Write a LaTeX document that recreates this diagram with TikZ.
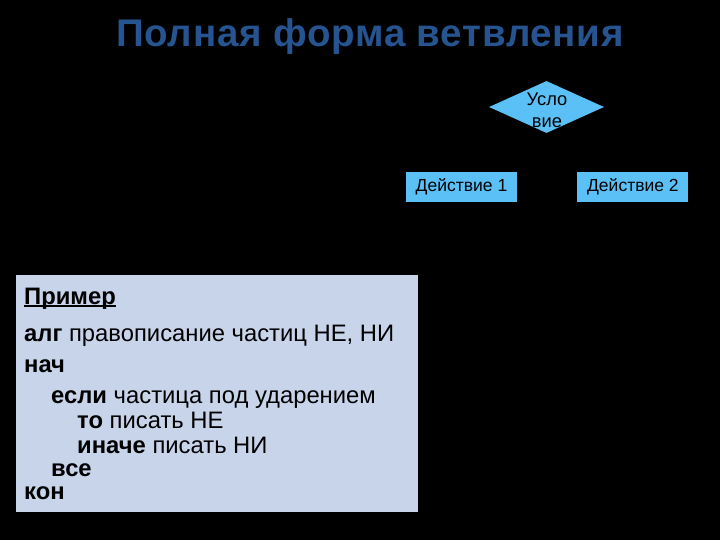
\documentclass[tikz,border=0pt]{standalone}
\usepackage{fontspec}
\setmainfont{Liberation Sans}
\usepackage{tikz}
\usetikzlibrary{shapes.geometric}
\usetikzlibrary{positioning}
\definecolor{titleblue}{RGB}{38,84,145}
\definecolor{shapeblue}{RGB}{90,192,246}
\definecolor{notefill}{RGB}{200,212,234}
\tikzset{every picture/.style={x=1pt,y=-1pt}}
\tikzset{action/.style={rectangle,fill=shapeblue,minimum width=111pt,minimum height=30pt,inner sep=0pt,font=\fontsize{17.5}{21}\selectfont}}
\tikzset{cond/.style={diamond,fill=shapeblue,minimum width=115pt,minimum height=52pt,inner sep=0pt}}
\tikzset{codeline/.style={anchor=base west,inner sep=0pt,font=\fontsize{23.8}{27}\selectfont}}

\begin{document}
\begin{tikzpicture}
\useasboundingbox[fill=black] (0,0) rectangle (720,540);

\node (title) at (370,47) [anchor=base,inner sep=0pt,text=titleblue,font=\fontsize{38.5}{44}\selectfont\bfseries] {\addfontfeature{LetterSpace=2}Полная форма ветвления};

\node (cond) at (546.5,107) [cond] {};
\node (condtext) at (547,110) [align=center,inner sep=0pt,font=\fontsize{18.3}{22}\selectfont] {Усло\\вие};

\node (act1) at (461.5,187) [action] {Действие 1};
\node (act2) [action, right=60pt of act1] {Действие 2};

% example
\node (note) at (16,275) [anchor=north west,fill=notefill,minimum width=402pt,minimum height=237pt,inner sep=0pt] {};
\node (ex) at (24,304) [codeline] {\textbf{Пример}};
\draw[line width=1.6pt] ([yshift=-2pt]ex.base west) -- ([yshift=-2pt]ex.base east);
\node (alg) at (24,341) [codeline] {\textbf{алг} правописание частиц НЕ, НИ};
\node (beg) at (24,372) [codeline] {\textbf{нач}};
\node (if) at (51,403) [codeline] {\textbf{если} частица под ударением};
\node (then) at (77,428) [codeline] {\textbf{то} писать НЕ};
\node (else) at (77,453) [codeline] {\textbf{иначе} писать НИ};
\node (fi) at (51,476.5) [codeline] {\textbf{все}};
\node (end) at (24,499.5) [codeline] {\textbf{кон}};

\end{tikzpicture}
\end{document}
